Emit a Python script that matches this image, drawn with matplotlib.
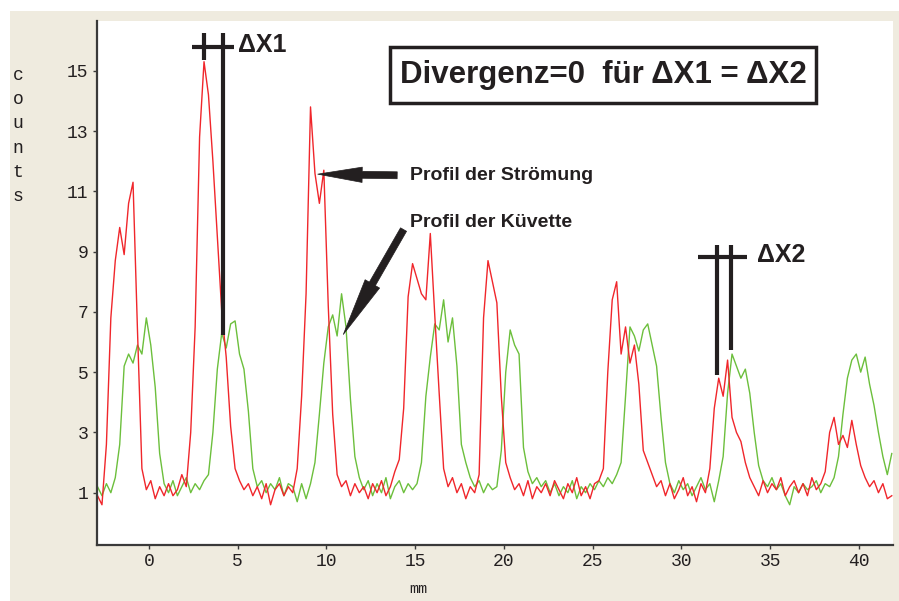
import matplotlib.pyplot as plt
import numpy as np
from matplotlib.patches import Rectangle, FancyArrowPatch

INK = "#231f20"
AXIS = "#3a3a3a"
RED = "#f0262b"
GREEN = "#6cbf3c"
FRAME = "#efebdf"
LABEL_FONT = ["Liberation Sans Narrow", "Liberation Sans", "DejaVu Sans"]

plt.rcParams.update({
    "font.family": ["Liberation Mono", "DejaVu Sans Mono"],
    "figure.facecolor": "white", "axes.facecolor": "white",
})

# sampled profiles, one value every 0.25 mm starting at -2.9 mm
X_START, X_STEP = -2.9, 0.25
red_counts = [
    0.9, 0.6, 2.6, 6.8,  8.7, 9.8, 8.9, 10.6,  11.3, 6.4, 1.8, 1.1,
    1.4, 0.8, 1.2, 0.9,  1.3, 0.9, 1.1, 1.6,  1.2, 3.0, 6.5, 12.8,
    15.3, 14.2, 12.0, 9.5,  7.0, 5.5, 3.2, 1.8,  1.4, 1.1, 1.3, 0.9,
    1.2, 0.8, 1.3, 0.6,  1.1, 1.3, 0.9, 1.2,  1.0, 1.8, 4.2, 7.6,
    13.8, 11.6, 10.6, 11.7,  7.2, 3.6, 1.6, 1.2,  1.4, 0.9, 1.3, 1.0,
    1.2, 0.8, 1.3, 1.0,  1.4, 0.9, 1.2, 1.7,  2.1, 3.8, 7.5, 8.6,
    8.1, 7.6, 7.4, 9.6,  6.9, 4.3, 1.8, 1.2,  1.5, 1.0, 1.3, 0.8,
    1.2, 1.0, 1.6, 6.8,  8.7, 8.0, 7.3, 4.2,  2.0, 1.5, 1.1, 1.3,
    0.9, 1.4, 0.8, 1.2,  1.0, 1.3, 0.9, 1.4,  1.1, 0.8, 1.3, 1.0,
    1.5, 0.9, 1.2, 0.8,  1.3, 1.4, 1.8, 5.0,  7.4, 8.0, 5.6, 6.5,
    5.3, 5.9, 4.6, 2.4,  2.0, 1.6, 1.2, 1.4,  0.9, 1.3, 0.8, 1.1,
    1.5, 0.9, 1.2, 0.7,  1.3, 1.0, 1.8, 3.8,  4.8, 4.2, 5.4, 3.5,
    3.0, 2.7, 2.0, 1.5,  1.2, 0.9, 1.4, 1.0,  1.3, 1.1, 1.5, 0.9,
    1.2, 1.4, 1.0, 1.3,  0.9, 1.5, 1.1, 1.3,  1.7, 3.0, 3.5, 2.6,
    2.9, 2.5, 3.4, 2.6,  1.9, 1.5, 1.2, 1.4,  1.0, 1.3, 0.8, 0.9,
]
green_counts = [
    1.2, 0.9, 1.3, 1.0,  1.5, 2.6, 5.2, 5.6,  5.3, 5.9, 5.6, 6.8,
    5.9, 4.5, 2.3, 1.3,  1.0, 1.4, 0.9, 1.2,  1.5, 1.0, 1.3, 1.1,
    1.4, 1.6, 3.0, 5.1,  6.3, 5.8, 6.6, 6.7,  5.6, 5.1, 3.7, 1.8,
    1.2, 1.4, 1.0, 1.3,  1.1, 1.5, 0.9, 1.3,  1.2, 0.7, 1.3, 0.8,
    1.3, 2.0, 3.6, 5.3,  6.5, 6.9, 6.2, 7.6,  6.5, 4.1, 2.2, 1.5,
    1.1, 1.4, 0.9, 1.3,  1.0, 1.5, 0.8, 1.2,  1.4, 1.0, 1.3, 1.1,
    1.3, 2.0, 4.2, 5.5,  6.6, 6.4, 7.4, 6.0,  6.8, 5.2, 2.6, 2.0,
    1.5, 1.2, 1.4, 1.0,  1.3, 1.1, 1.2, 2.4,  5.0, 6.4, 5.9, 5.6,
    2.5, 1.7, 1.3, 1.5,  1.2, 1.4, 1.0, 1.3,  0.9, 1.2, 1.0, 1.4,
    0.8, 1.2, 1.0, 1.3,  1.1, 1.4, 1.2, 1.5,  1.3, 1.6, 2.0, 4.2,
    6.5, 6.2, 5.7, 6.4,  6.6, 5.9, 5.2, 3.5,  2.0, 1.3, 1.0, 1.4,
    1.1, 1.3, 0.9, 1.2,  1.5, 1.1, 1.3, 0.7,  1.4, 2.2, 4.3, 5.6,
    5.2, 4.8, 5.1, 4.3,  3.0, 1.9, 1.4, 1.2,  1.5, 1.1, 1.3, 0.9,
    0.6, 1.2, 1.0, 1.3,  1.1, 1.2, 1.4, 1.0,  1.3, 1.2, 1.5, 2.2,
    3.6, 4.8, 5.4, 5.6,  5.0, 5.5, 4.6, 3.9,  3.0, 2.2, 1.6, 2.3,
]
x_mm = X_START + X_STEP * np.arange(len(red_counts))

x_ticks = [0, 5, 10, 15, 20, 25, 30, 35, 40]
y_ticks = [1, 3, 5, 7, 9, 11, 13, 15]

fig = plt.figure(figsize=(8.99, 6.01), dpi=100)
fig.patches.append(Rectangle((10 / 899, 0), 889 / 899, 590 / 601, transform=fig.transFigure,
                             fc=FRAME, ec="none", zorder=-10))
ax = fig.add_axes([97 / 899, 56 / 601, 796 / 899, 524 / 601])

ax.plot(x_mm, green_counts, color=GREEN, linewidth=1.0)
ax.plot(x_mm, red_counts, color=RED, linewidth=1.0)

ax.set_xlim(-2.93, 41.92)
ax.set_ylim(-0.735, 16.65)
ax.set_xticks(x_ticks)
ax.set_yticks(y_ticks)
for side in ("top", "right"):
    ax.spines[side].set_visible(False)
for side in ("left", "bottom"):
    ax.spines[side].set_color(AXIS)
    ax.spines[side].set_linewidth(1.6)
ax.tick_params(direction="out", length=3, width=1, colors=AXIS, labelcolor=INK,
               labelsize=13, pad=3)

fig.text(18 / 899, 1 - 136 / 601, "c\no\nu\nn\nt\ns", ha="center", va="center",
         fontsize=13, linespacing=1.55, color=INK)
fig.text(418 / 899, 1 - 589 / 601, "mm", ha="center", va="center", fontsize=11, color=INK)

# delta-x markers
mk = dict(color=INK, linewidth=3, solid_capstyle="butt", clip_on=False)
ax.plot([2.42, 4.79], [15.8, 15.8], **mk)
ax.plot([3.1, 3.1], [16.25, 15.35], **mk)
ax.plot([4.17, 4.17], [16.25, 6.23], **mk)
ax.text(5.0, 15.85, "ΔX1", fontsize=18, fontweight="bold", family=LABEL_FONT,
        color=INK, va="center", ha="left")

ax.plot([30.93, 33.69], [8.83, 8.83], **mk)
ax.plot([31.98, 31.98], [9.22, 4.9], **mk)
ax.plot([32.77, 32.77], [9.22, 5.73], **mk)
ax.text(34.25, 8.89, "ΔX2", fontsize=18, fontweight="bold", family=LABEL_FONT,
        color=INK, va="center", ha="left")

# boxed statement
ax.add_patch(Rectangle((13.58, 13.93), 24.0, 1.86, fc="white", ec=INK, lw=2.5, zorder=5))
ax.text(25.58, 14.86, "Divergenz=0  für ΔX1 = ΔX2", fontsize=22.5, fontweight="bold",
        family=LABEL_FONT, color=INK, ha="center", va="center", zorder=6)

# arrows with labels
ax.add_patch(FancyArrowPatch((14.14, 11.53), (9.35, 11.57),
                             arrowstyle="simple,head_length=3.2,head_width=1.1,tail_width=0.5",
                             mutation_scale=10, fc=INK, ec=INK, lw=0.5, zorder=6))
ax.text(14.7, 11.53, "Profil der Strömung", fontsize=14, fontweight="bold",
        family=LABEL_FONT, color=INK, ha="left", va="center")

ax.add_patch(FancyArrowPatch((14.42, 9.81), (10.87, 6.17),
                             arrowstyle="simple,head_length=4.2,head_width=1.2,tail_width=0.5",
                             mutation_scale=10, fc=INK, ec=INK, lw=0.5, zorder=6))
ax.text(14.7, 9.98, "Profil der Küvette", fontsize=14, fontweight="bold",
        family=LABEL_FONT, color=INK, ha="left", va="center")

fig.savefig("out.png", dpi=100)
